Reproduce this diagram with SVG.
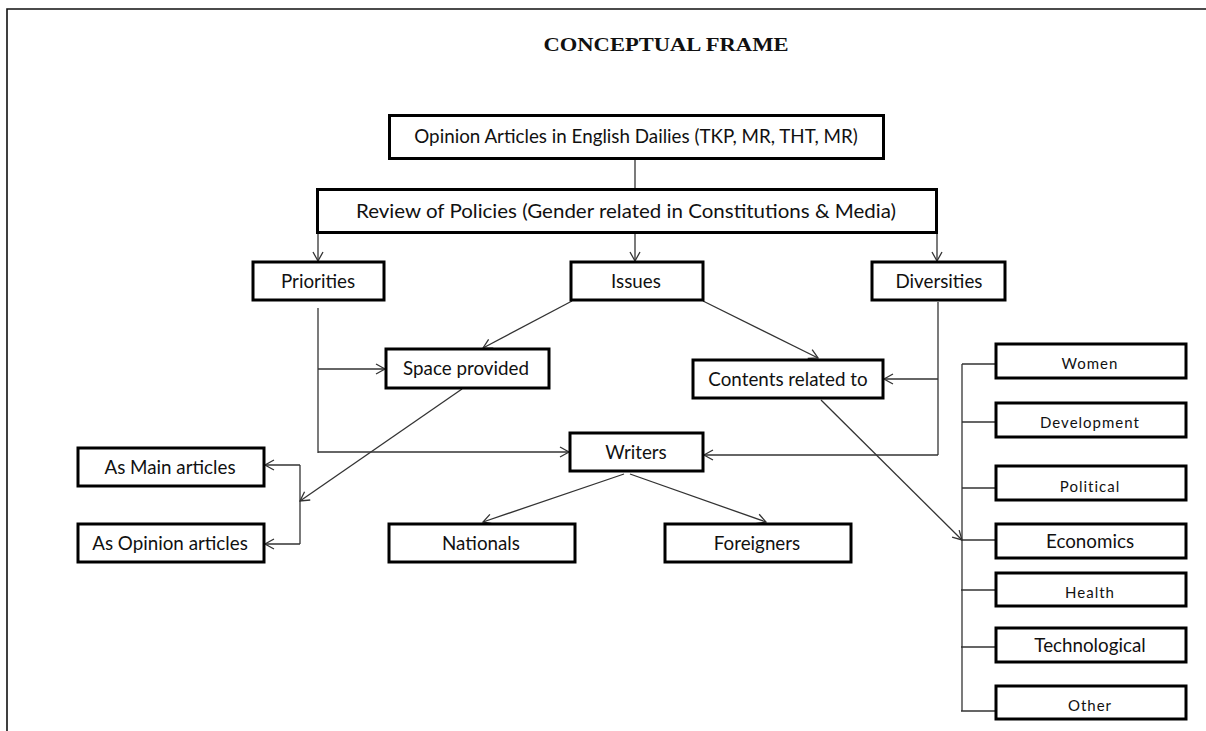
<svg xmlns="http://www.w3.org/2000/svg" width="1206" height="731" viewBox="0 0 1206 731">
<defs>
<style>
.box{fill:#fff;stroke:#000;stroke-width:3}
.t{font-family:Lato,"Liberation Sans",sans-serif;font-size:18.8px;fill:#111;text-anchor:middle}
.s{font-family:Lato,"Liberation Sans",sans-serif;font-size:15px;letter-spacing:1px;fill:#111;text-anchor:middle}
.c{fill:none;stroke:#333;stroke-width:1.3}
</style>
<marker id="a" markerUnits="userSpaceOnUse" markerWidth="14" markerHeight="14" refX="10" refY="6" orient="auto" viewBox="0 0 14 12">
<path d="M1,1 L10,6 L1,11" fill="none" stroke="#333" stroke-width="1.3"/>
</marker>
</defs>
<rect width="1206" height="731" fill="#fff"/>
<path d="M7,731 V9 H1206" fill="none" stroke="#111" stroke-width="1.6"/>
<text x="666" y="51" font-family="'Liberation Serif',serif" font-weight="bold" font-size="19" text-anchor="middle" textLength="245" lengthAdjust="spacingAndGlyphs" fill="#111">CONCEPTUAL FRAME</text>
<g id="connectors">
<path class="c" d="M635,159 V189"/>
<path class="c" marker-end="url(#a)" d="M318,233 V261"/>
<path class="c" marker-end="url(#a)" d="M635,233 V261"/>
<path class="c" marker-end="url(#a)" d="M937,233 V261"/>
<path class="c" d="M318,308 V453"/>
<path class="c" marker-end="url(#a)" d="M318,369 H385"/>
<path class="c" marker-end="url(#a)" d="M318,452 H569"/>
<path class="c" marker-end="url(#a)" d="M572,301 L483,348"/>
<path class="c" marker-end="url(#a)" d="M703,301 L818,358"/>
<path class="c" d="M938,302 V455"/>
<path class="c" marker-end="url(#a)" d="M938,379 H884"/>
<path class="c" marker-end="url(#a)" d="M938,455 H704"/>
<path class="c" marker-end="url(#a)" d="M462,389 L300,501"/>
<path class="c" d="M300,465 V544"/>
<path class="c" marker-end="url(#a)" d="M300,465 H265"/>
<path class="c" marker-end="url(#a)" d="M300,544 H265"/>
<path class="c" marker-end="url(#a)" d="M624,474 L483,522"/>
<path class="c" marker-end="url(#a)" d="M630,474 L766,522"/>
<path class="c" marker-end="url(#a)" d="M821,400 L962,540"/>
<path class="c" d="M962,364 V711"/>
<path class="c" d="M962,364 H995 M962,422 H995 M962,488 H995 M961,540 H995 M961,590 H995 M961,647 H995 M961,711 H995"/>
</g>
<g id="n-opinion"><rect class="box" x="389.5" y="115.5" width="494" height="43"/><text class="t" x="636" y="143" font-size="18.6">Opinion Articles in English Dailies (TKP, MR, THT, MR)</text></g>
<g id="n-review"><rect class="box" x="317.5" y="189.5" width="619" height="43"/><text class="t" x="626" y="218" font-size="20" textLength="540" lengthAdjust="spacingAndGlyphs">Review of Policies (Gender related in Constitutions &amp; Media)</text></g>
<g id="n-priorities"><rect class="box" x="253" y="262" width="131" height="38"/><text class="t" x="318" y="288">Priorities</text></g>
<g id="n-issues"><rect class="box" x="571" y="262" width="132" height="38"/><text class="t" x="636" y="288">Issues</text></g>
<g id="n-diversities"><rect class="box" x="872" y="262" width="133" height="38"/><text class="t" x="939" y="288">Diversities</text></g>
<g id="n-space"><rect class="box" x="386" y="349" width="163" height="39"/><text class="t" x="466" y="375">Space provided</text></g>
<g id="n-contents"><rect class="box" x="693" y="360" width="190" height="38"/><text class="t" x="788" y="386">Contents related to</text></g>
<g id="n-writers"><rect class="box" x="570" y="433" width="133" height="38"/><text class="t" x="636" y="459">Writers</text></g>
<g id="n-main"><rect class="box" x="78" y="448" width="186" height="38"/><text class="t" x="170" y="474">As Main articles</text></g>
<g id="n-opart"><rect class="box" x="78" y="524" width="186" height="38"/><text class="t" x="170" y="550">As Opinion articles</text></g>
<g id="n-nationals"><rect class="box" x="389" y="524" width="186" height="38"/><text class="t" x="481" y="550">Nationals</text></g>
<g id="n-foreigners"><rect class="box" x="665" y="524" width="186" height="38"/><text class="t" x="757" y="550">Foreigners</text></g>
<g id="n-women"><rect class="box" x="996" y="344" width="190" height="34"/><text class="s" x="1090" y="369">Women</text></g>
<g id="n-development"><rect class="box" x="996" y="403" width="190" height="34"/><text class="s" x="1090" y="428">Development</text></g>
<g id="n-political"><rect class="box" x="996" y="466" width="190" height="34"/><text class="s" x="1090" y="492">Political</text></g>
<g id="n-economics"><rect class="box" x="996" y="524" width="190" height="34"/><text class="t" x="1090" y="548" font-size="19">Economics</text></g>
<g id="n-health"><rect class="box" x="996" y="573" width="190" height="33"/><text class="s" x="1090" y="598">Health</text></g>
<g id="n-technological"><rect class="box" x="996" y="628" width="190" height="34"/><text class="t" x="1090" y="652" font-size="19.5">Technological</text></g>
<g id="n-other"><rect class="box" x="996" y="686" width="190" height="33"/><text class="s" x="1090" y="711">Other</text></g>
</svg>
